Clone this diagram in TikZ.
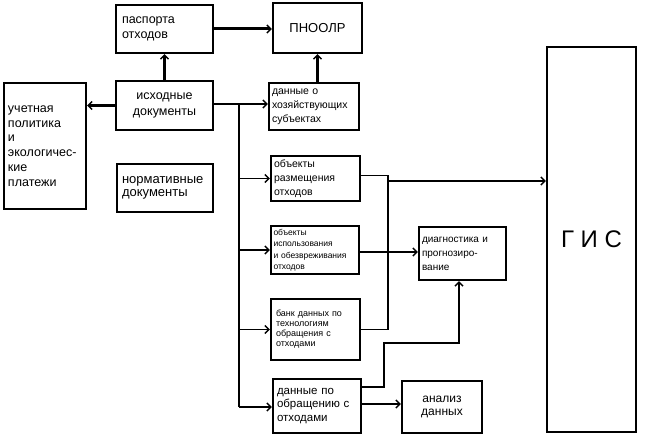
\documentclass[tikz,border=0pt]{standalone}
\usepackage{fontspec}
\setmainfont{Liberation Sans}
\usetikzlibrary{arrows.meta,calc}
\begin{document}
\begin{tikzpicture}[x=1pt,y=-1pt,
  box/.style={draw, line width=2.2pt, inner xsep=4pt, inner ysep=2pt, align=left},
  thinline/.style={line width=1.8pt},
  thickline/.style={line width=3pt},
  arr/.style={-{Straight Barb[length=4pt,width=8pt,line width=1.5pt]}},
  fs/.style n args={2}{font=\fontsize{#1}{#2}\selectfont}]
\useasboundingbox (0,0) rectangle (647,443);
% boxes
\node[box, minimum width=97pt, minimum height=48pt, text width=85pt, fs={12.5}{15}] (pasp) at (164.5,29) {паспорта\\отходов};
\node[box, minimum width=89pt, minimum height=50pt, align=center, fs={13}{15}] (pno) at (317.5,28) {ПНООЛР};
\node[box, minimum width=97pt, minimum height=49pt, align=center, fs={12.5}{16}] (isx) at (164.5,105.5) {исходные\\документы};
\node[box, minimum width=82pt, minimum height=126pt, text width=74pt, fs={12.5}{14.8}] (uchet) at (45,146) {учетная\\политика\\и\\экологичес-\\кие\\платежи};
\node[box, minimum width=96pt, minimum height=48pt, text width=86pt, fs={13}{13.5}] (norm) at (165,188) {нормативные\\документы};
\node[box, minimum width=90pt, minimum height=47pt, text width=84pt, inner xsep=3pt, fs={10.5}{14}] (dh) at (314,106.5) {данные о\\хозяйствующих\\субъектах};
\node[box, minimum width=89pt, minimum height=45pt, text width=83pt, inner xsep=3pt, fs={10.5}{14}] (obr) at (315.5,178.5) {объекты\\размещения\\отходов};
\node[box, minimum width=88pt, minimum height=48pt, text width=83pt, inner xsep=2.5pt, fs={8.5}{11.5}] (obi) at (315,250) {объекты\\использования\\и обезвреживания\\отходов};
\node[box, minimum width=87pt, minimum height=53pt, text width=81pt, inner xsep=3pt, fs={10}{14}] (diag) at (462.5,253.5) {диагностика и\\прогнозиро-\\вание};
\node[box, minimum width=89pt, minimum height=61pt, text width=79pt, inner xsep=5pt, fs={9}{10}] (bank) at (315.5,329.5) {банк данных по\\технологиям\\обращения с\\отходами};
\node[box, minimum width=88pt, minimum height=54pt, text width=80pt, fs={11.5}{13.5}] (dpo) at (317,406) {данные по\\обращению с\\отходами};
\node[box, minimum width=80pt, minimum height=52pt, align=center, fs={12}{13.5}] (an) at (442,407) {анализ\\данных};
\node[box, minimum width=89pt, minimum height=385pt, align=center, fs={24}{28}] (gis) at (591.5,239.5) {Г И С};
% thick connectors
\draw[thickline, arr] (isx.north) -- (pasp.south);
\draw[thickline, arr] (pasp.east) -- (pasp.east -| pno.west);
\draw[thickline, arr] (pno.south |- dh.north) -- (pno.south);
\draw[thickline, arr] (isx.west) -- (isx.west -| uchet.east);
% bus
\coordinate (bt) at (239,104);
\coordinate (bb) at (239,407);
\draw[thinline, arr] ([yshift=1.5pt]isx.east) -- ([yshift=1.5pt]isx.east -| dh.west);
\draw[thinline] (bt) -- (bb);
\draw[thinline, arr] (bt |- obr.west) -- (obr.west);
\draw[thinline, arr] (bt |- obi.west) -- (obi.west);
\draw[thinline, arr] (bt |- bank.west) -- (bank.west);
\draw[thinline, arr] (bb) -- (bb -| dpo.west);
% right collectors
\coordinate (j1) at (388,181);
\draw[thinline] ([yshift=3pt]obr.east) -| (j1) |- (bank.east);
\draw[thinline, arr] (j1) -- (j1 -| gis.west);
\draw[thinline, arr] ([yshift=-2pt]obi.east) -- ([yshift=-2pt]obi.east -| diag.west);
\coordinate (k1) at (384,343);
\draw[thinline, arr] ([yshift=19pt]dpo.east) -| (k1) -| ([xshift=-3.5pt]diag.south);
\draw[thinline, arr] ([yshift=2pt]dpo.east) -- ([yshift=2pt]dpo.east -| an.west);
\end{tikzpicture}
\end{document}
